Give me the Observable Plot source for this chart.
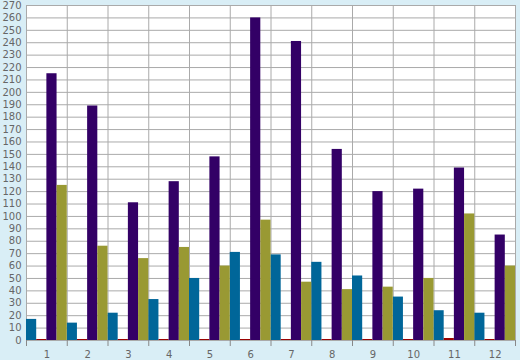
<!DOCTYPE html>
<html><head><meta charset="utf-8">
<script src="https://cdn.jsdelivr.net/npm/d3@7"></script>
<script src="https://cdn.jsdelivr.net/npm/@observablehq/plot@0.6"></script>
<style>html,body{margin:0;padding:0;background:#d9eef6;}</style>
</head><body><div id="chart"></div>
<script>
const months = [1,2,3,4,5,6,7,8,9,10,11,12];
const seriesNames = ["A","B","C","D"];
const seriesColors = ["#006699","#990000","#330066","#999933"];
const valuesA = [17,14,22,33,50,71,69,63,52,35,24,22];
const valuesB = [0.8,0.8,0.8,0.8,0.8,0.8,0.8,0.8,0.8,0.8,1.6,0.8];
const valuesC = [215,189,111,128,148,260,241,154,120,122,139,85];
const valuesD = [125,76,66,75,60,97,47,41,43,50,102,60];
const yTicks = d3.range(0, 271, 10);

const allValues = [valuesA, valuesB, valuesC, valuesD];
const data = [];
allValues.forEach((vals, k) => vals.forEach((v, i) => data.push({
  month: months[i], k, series: seriesNames[k], value: v,
  x1: months[i] - 0.5 + k / 4, x2: months[i] - 0.5 + (k + 1) / 4
})));
const bounds = d3.range(0.5, 12.51, 1);

const chart = Plot.plot({
  width: 520, height: 360,
  marginLeft: 26, marginRight: 5, marginTop: 5, marginBottom: 20,
  style: {background: "#d9eef6", fontFamily: "DejaVu Sans", fontSize: "10px"},
  x: {domain: [0.5, 12.5], axis: null, label: null},
  y: {domain: [0, 270], axis: null, label: null},
  color: {domain: seriesNames, range: seriesColors},
  marks: [
    Plot.frame({fill: "white", stroke: "none"}),
    Plot.gridY(yTicks, {stroke: "#aaaaaa", strokeOpacity: 1}),
    Plot.gridX(bounds, {stroke: "#aaaaaa", strokeOpacity: 1}),
    Plot.rectY(data, {x1: "x1", x2: "x2", y: "value", fill: "series", inset: 0}),
    Plot.axisY(yTicks, {tickSize: 0, tickPadding: 5, fill: "#666", fontSize: 10, label: null}),
    Plot.axisX(bounds, {tickSize: 6, stroke: "#888", text: null, label: null}),
    Plot.axisX(months, {tickSize: 0, tickPadding: 10, fill: "#666", fontSize: 10, label: null})
  ]
});
document.getElementById("chart").appendChild(chart);
</script>
</body></html>
